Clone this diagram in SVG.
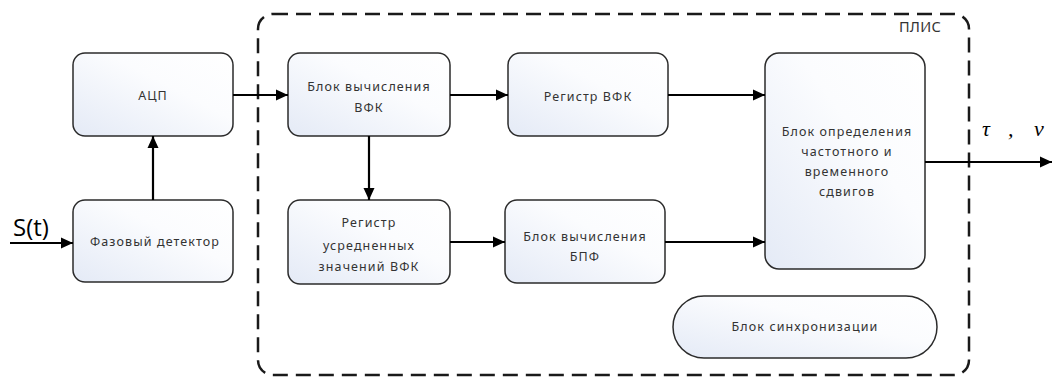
<svg xmlns="http://www.w3.org/2000/svg" width="1052" height="378" viewBox="0 0 1052 378">
<defs>
<linearGradient id="g" x1="0" y1="1" x2="1" y2="0">
<stop offset="0" stop-color="#e4eaf6"/>
<stop offset="0.6" stop-color="#fbfcfe"/>
<stop offset="1" stop-color="#ffffff"/>
</linearGradient>
<marker id="ah" viewBox="0 0 12 12" refX="12" refY="6" markerWidth="12" markerHeight="12" markerUnits="userSpaceOnUse" orient="auto">
<path d="M0,0.5 L12,6 L0,11.5 z" fill="#000"/>
</marker>
</defs>
<style>
.box{fill:url(#g);stroke:#2b2b2b;stroke-width:1.5}
.t{font-family:"Noto Sans","DejaVu Sans",sans-serif;font-size:12.5px;fill:#333;text-anchor:middle;letter-spacing:1.1px}
.c{fill:none;stroke:#000;stroke-width:2.2;marker-end:url(#ah)}
.frame{fill:none;stroke:#1a1a1a;stroke-width:2.5;stroke-dasharray:15 8}
.m{font-family:"Liberation Serif",serif;font-style:italic;font-size:22px;fill:#000}
</style>
<rect width="1052" height="378" fill="#fff"/>
<g id="fpga">
<rect class="frame" x="258" y="14" width="711" height="361" rx="15"/>
<text class="t" x="920" y="32" style="font-size:14.5px;letter-spacing:0.3px">ПЛИС</text>
</g>
<g id="adc">
<rect class="box" x="73" y="53" width="160" height="83" rx="12"/>
<text class="t" x="153" y="100">АЦП</text>
</g>
<g id="phase">
<rect class="box" x="73" y="200" width="160" height="82" rx="12"/>
<text class="t" x="155" y="246">Фазовый детектор</text>
</g>
<g id="vfk">
<rect class="box" x="288" y="53" width="162" height="83" rx="12"/>
<text class="t" x="369" y="91">Блок вычисления</text>
<text class="t" x="369" y="112">ВФК</text>
</g>
<g id="regvfk">
<rect class="box" x="508" y="53" width="160" height="83" rx="12"/>
<text class="t" x="588" y="101">Регистр ВФК</text>
</g>
<g id="regavg">
<rect class="box" x="288" y="200" width="162" height="84" rx="12"/>
<text class="t" x="369" y="227">Регистр</text>
<text class="t" x="369" y="250">усредненных</text>
<text class="t" x="369" y="271">значений ВФК</text>
</g>
<g id="fft">
<rect class="box" x="505" y="200" width="160" height="83" rx="12"/>
<text class="t" x="585" y="241">Блок вычисления</text>
<text class="t" x="585" y="261">БПФ</text>
</g>
<g id="shift">
<rect class="box" x="765" y="53" width="160" height="216" rx="14"/>
<text class="t" x="847" y="136">Блок определения</text>
<text class="t" x="847" y="156">частотного и</text>
<text class="t" x="847" y="176">временного</text>
<text class="t" x="847" y="196">сдвигов</text>
</g>
<g id="sync">
<rect class="box" x="673" y="296" width="264" height="62" rx="31"/>
<text class="t" x="805" y="331">Блок синхронизации</text>
</g>
<g id="labels">
<text x="13" y="236" style="font-family:'Open Sans','Noto Sans',sans-serif;font-size:24px;fill:#000">S(t)</text>
<text class="m" x="982" y="136">τ</text>
<text class="m" x="1008" y="136">,</text>
<text class="m" x="1034" y="136">ν</text>
</g>
<g id="connectors">
<line class="c" x1="10" y1="243" x2="73" y2="243"/>
<line class="c" x1="153" y1="200" x2="153" y2="136"/>
<line class="c" x1="233" y1="95" x2="288" y2="95"/>
<line class="c" x1="450" y1="95" x2="508" y2="95"/>
<line class="c" x1="369" y1="136" x2="369" y2="200"/>
<line class="c" x1="450" y1="242" x2="505" y2="242"/>
<line class="c" x1="668" y1="95" x2="765" y2="95"/>
<line class="c" x1="665" y1="242" x2="765" y2="242"/>
<line class="c" x1="925" y1="162" x2="1052" y2="162"/>
</g>
</svg>
